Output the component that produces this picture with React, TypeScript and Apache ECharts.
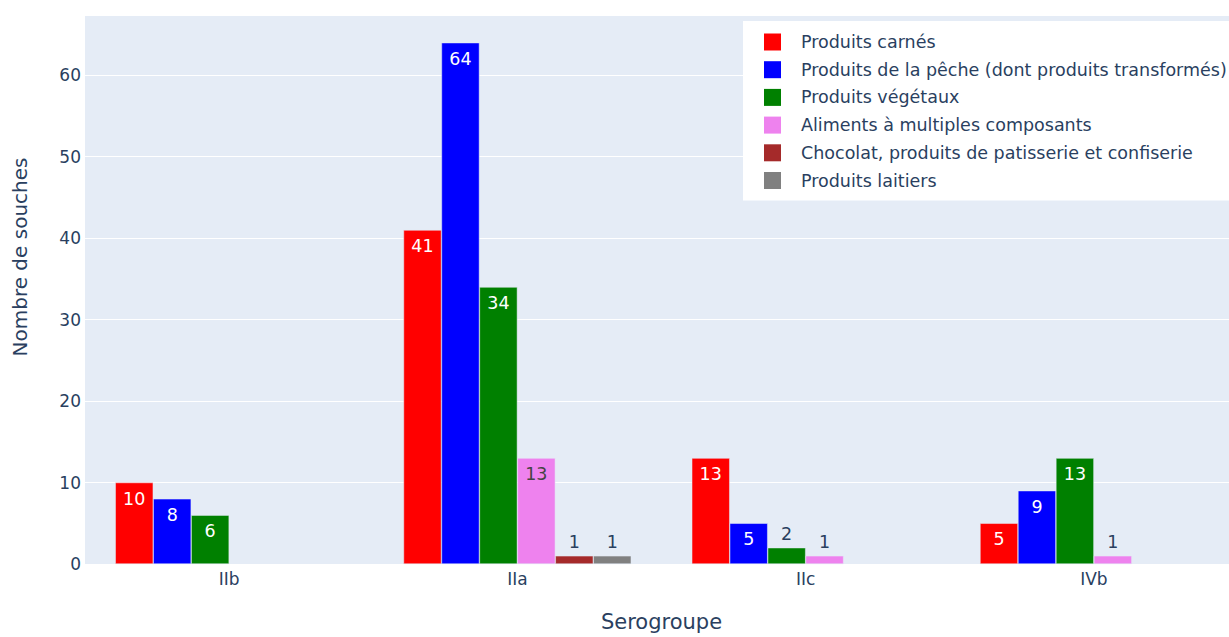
import React, { useEffect, useRef } from "react";
import * as echarts from "echarts";

const categories = ["IIb", "IIa", "IIc", "IVb"];
const seriesNames = [
  "Produits carnés",
  "Produits de la pêche (dont produits transformés)",
  "Produits végétaux",
  "Aliments à multiples composants",
  "Chocolat, produits de patisserie et confiserie",
  "Produits laitiers",
];
const produitsCarnes = [10, 41, 13, 5];
const produitsPeche = [8, 64, 5, 9];
const produitsVegetaux = [6, 34, 2, 13];
const alimentsMultiples = [null, 13, 1, 1];
const chocolat = [null, 1, null, null];
const produitsLaitiers = [null, 1, null, null];
const yTicks = [0, 10, 20, 30, 40, 50, 60];

const seriesValues = [
  produitsCarnes,
  produitsPeche,
  produitsVegetaux,
  alimentsMultiples,
  chocolat,
  produitsLaitiers,
];
const colors = ["#FF0000", "#0000FF", "#008000", "#EE82EE", "#A52A2A", "#808080"];
const insideTextColors = ["#ffffff", "#ffffff", "#ffffff", "#444444", "#ffffff", "#ffffff"];

const FONT = "DejaVu Sans, Verdana, sans-serif";
const TEXT = "#2a3f5f";

export default function App() {
  const ref = useRef<HTMLDivElement>(null);

  useEffect(() => {
    if (!ref.current) return;
    const chart = echarts.init(ref.current, undefined, { renderer: "svg" });

    const series = seriesNames.map((name, i) => ({
      name,
      type: "bar",
      barGap: "0%",
      barCategoryGap: "21%",
      itemStyle: { color: colors[i], borderColor: "#E5ECF6", borderWidth: 0.5 },
      label: { show: true, fontFamily: FONT, fontSize: 17.5 },
      data: seriesValues[i].map((v) =>
        v == null
          ? "-"
          : {
              value: v,
              label:
                v >= 3
                  ? { show: true, position: "insideTop", distance: 7, color: insideTextColors[i] }
                  : { show: true, position: "top", distance: 5, color: TEXT },
            }
      ),
    }));

    chart.setOption({
      animation: false,
      backgroundColor: "#ffffff",
      textStyle: { fontFamily: FONT },
      grid: { left: 85, top: 15, right: 2, bottom: 63, containLabel: false, show: true, backgroundColor: "#E5ECF6", borderWidth: 0 },
      legend: {
        orient: "vertical",
        left: 743,
        top: 21,
        icon: "rect",
        itemWidth: 17,
        itemHeight: 17,
        itemGap: 9.7,
        padding: [12, 14, 11, 21],
        backgroundColor: "#ffffff",
        itemStyle: { borderWidth: 0 },
        textStyle: { fontFamily: FONT, fontSize: 17.5, color: TEXT, padding: [0, 0, 0, 15], lineHeight: 17 },
        data: seriesNames,
      },
      xAxis: {
        type: "category",
        data: categories,
        axisLine: { show: false },
        axisTick: { show: false },
        axisLabel: { fontFamily: FONT, fontSize: 17, color: TEXT, margin: 6 },
        splitLine: { show: false },
        name: "Serogroupe",
        nameLocation: "middle",
        nameGap: 47,
        nameTextStyle: { fontFamily: FONT, fontSize: 21, color: TEXT },
      },
      yAxis: {
        type: "value",
        min: 0,
        max: 67.4,
        interval: 10,
        axisLine: { show: false },
        axisTick: { show: false },
        axisLabel: {
          fontFamily: FONT,
          fontSize: 17,
          color: TEXT,
          margin: 4,
          showMaxLabel: false,
          formatter: (v: number) => (yTicks.includes(v) ? String(v) : ""),
        },
        splitLine: { show: true, lineStyle: { color: "#ffffff", width: 1 } },
      },
      graphic: [
        {
          type: "text",
          x: 20,
          y: 257,
          rotation: Math.PI / 2,
          style: {
            text: "Nombre de souches",
            fontFamily: FONT,
            fontSize: 20,
            fill: TEXT,
            align: "center",
            verticalAlign: "middle",
          },
        },
      ],
      series,
    });

    return () => chart.dispose();
  }, []);

  return (
    <div
      ref={ref}
      style={{ position: "fixed", left: 0, top: 0, width: 1240, height: 637 }}
    />
  );
}
